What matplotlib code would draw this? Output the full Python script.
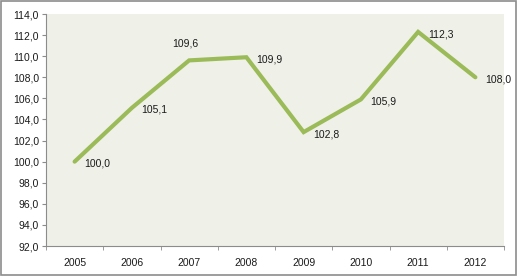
import matplotlib.pyplot as plt
import numpy as np

years = ['2005', '2006', '2007', '2008', '2009', '2010', '2011', '2012']
values = [100.0, 105.1, 109.6, 109.9, 102.8, 105.9, 112.3, 108.0]
y_ticks = np.arange(92, 114.1, 2)

plt.rcParams['font.family'] = ['Liberation Sans', 'DejaVu Sans']

fig = plt.figure(figsize=(5.18, 2.76), dpi=100)
fig.patch.set_facecolor('white')
# outer chart border
fig.add_artist(plt.Rectangle((0.002, 0.004), 0.994, 0.992, transform=fig.transFigure,
                             fill=False, edgecolor='#8c8c8c', linewidth=1.2))

ax = fig.add_axes([46 / 518, 1 - 246 / 276, (504 - 46) / 518, (246 - 14) / 276])
ax.set_facecolor('#eff1e9')

x = np.arange(len(years))
ax.plot(x, values, color='#9bbb59', linewidth=3, solid_capstyle='round',
        solid_joinstyle='miter')

for xi, v in zip(x, values):
    txt = f'{v:.1f}'.replace('.', ',')
    if years[xi] == '2007':
        # this label sits above its point
        ax.annotate(txt, (xi, v), xytext=(-3, 12), textcoords='offset points',
                    ha='center', va='center', fontsize=7.5, color='#1a1a1a')
    else:
        ax.annotate(txt, (xi, v), xytext=(7, -1.5), textcoords='offset points',
                    ha='left', va='center', fontsize=7.5, color='#1a1a1a')

ax.set_xlim(-0.5, len(years) - 0.5)
ax.set_ylim(92, 114)
ax.set_yticks(y_ticks)
ax.set_yticklabels([f'{t:.1f}'.replace('.', ',') for t in y_ticks])
ax.set_xticks(x)
ax.set_xticklabels(years)
ax.set_xticks(np.arange(-0.5, len(years)), minor=True)

for s in ['top', 'right']:
    ax.spines[s].set_visible(False)
for s in ['left', 'bottom']:
    ax.spines[s].set_color('#8c8c8c')
    ax.spines[s].set_linewidth(0.8)

ax.tick_params(axis='y', direction='out', length=3, color='#8c8c8c',
               labelsize=7.5, labelcolor='#1a1a1a', pad=2)
ax.tick_params(axis='x', which='major', length=0, labelsize=7.5,
               labelcolor='#1a1a1a', pad=9)
ax.tick_params(axis='x', which='minor', direction='out', length=3, color='#8c8c8c')

plt.savefig('out.png', dpi=100)
